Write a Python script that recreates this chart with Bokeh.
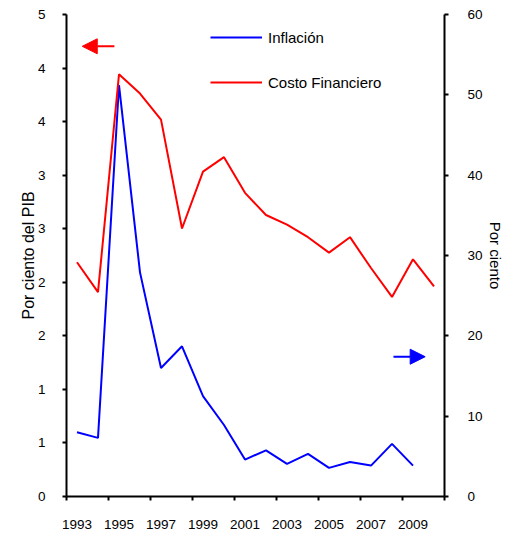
from bokeh.plotting import figure
from bokeh.models import (Range1d, LinearAxis, FixedTicker, CustomJSTickFormatter,
                          Legend, LegendItem, Arrow, NormalHead)
from bokeh.embed import file_html
from bokeh.resources import INLINE

# ---- data ----
years_costo = list(range(1993, 2011))
costo_financiero = [2.43, 2.12, 4.38, 4.18, 3.91, 2.78, 3.37, 3.52, 3.15, 2.92,
                    2.82, 2.69, 2.53, 2.69, 2.37, 2.07, 2.46, 2.18]
years_inflacion = list(range(1993, 2010))
inflacion = [8.0, 7.3, 51.2, 27.9, 16.0, 18.7, 12.5, 8.9, 4.6, 5.75,
             4.06, 5.3, 3.56, 4.3, 3.85, 6.55, 3.85]

x_tick_years = [1993, 1995, 1997, 1999, 2001, 2003, 2005, 2007, 2009]
x_tick_boundaries = [1992.5 + 2 * i for i in range(10)]
left_tick_labels = ["0", "1", "1", "2", "2", "3", "3", "4", "4", "5"]
left_ticks = [i * 5 / 9 for i in range(10)]
right_ticks = [0, 10, 20, 30, 40, 50, 60]

FONT = "Liberation Sans"

p = figure(width=506, height=531, output_backend="svg", toolbar_location=None,
           x_range=Range1d(1992.5, 2010.5), y_range=Range1d(0, 5),
           min_border_left=66, min_border_right=61, min_border_top=14, min_border_bottom=34)
p.extra_y_ranges = {"right": Range1d(0, 60)}
p.outline_line_color = None
p.xgrid.visible = False
p.ygrid.visible = False
p.background_fill_color = "white"
p.border_fill_color = "white"

def style_axis(ax):
    ax.axis_line_color = "black"
    ax.axis_line_width = 2
    ax.major_tick_line_color = "black"
    ax.major_tick_line_width = 2
    ax.major_tick_in = 0
    ax.major_tick_out = 4
    ax.minor_tick_line_color = None
    ax.major_label_text_font = FONT
    ax.major_label_text_font_size = "13.5px"
    ax.major_label_text_color = "black"
    ax.axis_label_text_font = FONT
    ax.axis_label_text_font_size = "15px"
    ax.axis_label_text_font_style = "normal"
    ax.axis_label_text_color = "black"

# bottom axis
xa = p.xaxis[0]
style_axis(xa)
xa.ticker = FixedTicker(ticks=x_tick_years, minor_ticks=x_tick_boundaries)
xa.major_tick_out = 0
xa.minor_tick_line_color = "black"
xa.minor_tick_line_width = 2
xa.minor_tick_in = 0
xa.minor_tick_out = 4
xa.major_label_standoff = 19

# left axis
ya = p.yaxis[0]
style_axis(ya)
ya.ticker = FixedTicker(ticks=left_ticks)
ya.formatter = CustomJSTickFormatter(args=dict(labels=left_tick_labels),
                                     code="return labels[Math.round(tick * 9 / 5)];")
ya.major_label_standoff = 17
ya.axis_label = "Por ciento del PIB"
ya.axis_label_text_font_size = "16px"
ya.axis_label_standoff = -2

# right axis
ra = LinearAxis(y_range_name="right", ticker=FixedTicker(ticks=right_ticks))
style_axis(ra)
ra.major_label_standoff = 19
ra.axis_label = "Por ciento"
ra.axis_label_standoff = 1
p.add_layout(ra, "right")

r_inf = p.line(years_inflacion, inflacion, y_range_name="right",
               line_color="#0000FF", line_width=2)
r_cost = p.line(years_costo, costo_financiero, line_color="#FF0000", line_width=2)

legend = Legend(items=[LegendItem(label="Inflación", renderers=[r_inf]),
                       LegendItem(label="Costo Financiero", renderers=[r_cost])],
                location=(144, 404), orientation="vertical",
                border_line_color=None, background_fill_alpha=0,
                padding=0, margin=0, spacing=25,
                glyph_width=52, glyph_height=20, label_height=20,
                label_standoff=6,
                label_text_font=FONT, label_text_font_size="15px",
                label_text_color="black")
p.add_layout(legend)

# axis pointer arrows
p.add_layout(Arrow(end=NormalHead(size=15, fill_color="#FF0000", line_color="#FF0000"),
                   x_start=1994.78, y_start=4.67, x_end=1993.25, y_end=4.67,
                   line_color="#FF0000", line_width=2))
p.add_layout(Arrow(end=NormalHead(size=15, fill_color="#0000FF", line_color="#0000FF"),
                   x_start=2008.07, y_start=17.4, x_end=2009.58, y_end=17.4,
                   y_range_name="right", line_color="#0000FF", line_width=2))

open("out.html", "w").write(file_html(p, INLINE))
